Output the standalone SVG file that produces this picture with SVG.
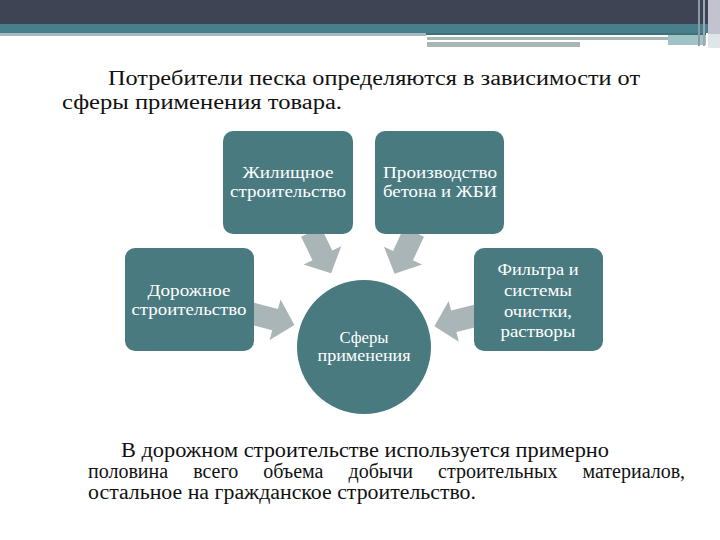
<svg xmlns="http://www.w3.org/2000/svg" width="720" height="540" viewBox="0 0 720 540">
<style>
.box{fill:#497a80}
.arr{fill:#a9b5b7}
text{font-family:'Liberation Serif','Times New Roman',Tinos,'DejaVu Serif',serif}
.bt{font-size:16px;fill:#ffffff;text-anchor:middle}
.tt{font-size:20px;fill:#111111}
</style>
<defs>
<path id="arrow" d="M0,-11 L26,-11 L26,-21 L46,0 L26,21 L26,11 L0,11 Z"/>
</defs>
<rect width="720" height="540" fill="#ffffff"/>
<g id="header">
<rect x="0" y="0" width="720" height="24" fill="#3f4454"/>
<rect x="0" y="24" width="720" height="9" fill="#47808a"/>
<rect x="0" y="33" width="426" height="3" fill="#a9b8bc"/>
<rect x="426" y="33" width="280" height="2" fill="#3f6f77"/>
<rect x="427" y="37" width="242" height="3" fill="#a9b6b6"/>
<rect x="668" y="35" width="38" height="10" fill="#9fc3c6"/>
<rect x="427" y="42" width="153" height="5" fill="#a9b6b6"/>
<rect x="698" y="0" width="2" height="46" fill="#8a9aa6"/>
<rect x="703" y="0" width="2" height="46" fill="#9aa8b4"/>
<rect x="708" y="0" width="12" height="34" fill="#c2c3cf"/>
<rect x="708" y="34" width="12" height="14" fill="#dfe6ea"/>
</g>
<g id="title">
<text class="tt" x="108" y="85" textLength="532" lengthAdjust="spacingAndGlyphs">Потребители песка определяются в зависимости от</text>
<text class="tt" x="62" y="109" textLength="280" lengthAdjust="spacingAndGlyphs">сферы применения товара.</text>
</g>
<g id="connectors">
<use href="#arrow" class="arr" transform="translate(311,232) rotate(64)"/>
<use href="#arrow" class="arr" transform="translate(414,232) rotate(115)"/>
<use href="#arrow" class="arr" transform="translate(250,313) rotate(15)"/>
<use href="#arrow" class="arr" transform="translate(479,315) rotate(166)"/>
</g>
<g id="node-housing">
<rect class="box" x="223" y="131" width="130" height="103" rx="10"/>
<text class="bt" x="288" y="178" textLength="91" lengthAdjust="spacingAndGlyphs">Жилищное</text>
<text class="bt" x="288" y="197" textLength="116" lengthAdjust="spacingAndGlyphs">строительство</text>
</g>
<g id="node-concrete">
<rect class="box" x="375" y="131" width="129" height="103" rx="10"/>
<text class="bt" x="440" y="178" textLength="114" lengthAdjust="spacingAndGlyphs">Производство</text>
<text class="bt" x="440" y="197" textLength="114" lengthAdjust="spacingAndGlyphs">бетона и ЖБИ</text>
</g>
<g id="node-road">
<rect class="box" x="125" y="248" width="129" height="103" rx="10"/>
<text class="bt" x="189" y="296" textLength="83" lengthAdjust="spacingAndGlyphs">Дорожное</text>
<text class="bt" x="189" y="315" textLength="115" lengthAdjust="spacingAndGlyphs">строительство</text>
</g>
<g id="node-filters">
<rect class="box" x="474" y="248" width="129" height="103" rx="10"/>
<text class="bt" x="538" y="275" textLength="81" lengthAdjust="spacingAndGlyphs">Фильтра и</text>
<text class="bt" x="538" y="296" textLength="68" lengthAdjust="spacingAndGlyphs">системы</text>
<text class="bt" x="538" y="317" textLength="68" lengthAdjust="spacingAndGlyphs">очистки,</text>
<text class="bt" x="538" y="337" textLength="75" lengthAdjust="spacingAndGlyphs">растворы</text>
</g>
<g id="node-center">
<circle class="box" cx="364" cy="347" r="67"/>
<text class="bt" x="364" y="343" textLength="49" lengthAdjust="spacingAndGlyphs">Сферы</text>
<text class="bt" x="364" y="361" textLength="93" lengthAdjust="spacingAndGlyphs">применения</text>
</g>
<g id="footer">
<text class="tt" x="121" y="457" textLength="488" lengthAdjust="spacingAndGlyphs">В дорожном строительстве используется примерно</text>
<text class="tt" x="88" y="478" word-spacing="20">половина всего объема добычи строительных материалов,</text>
<text class="tt" x="88" y="499" textLength="388" lengthAdjust="spacingAndGlyphs">остальное на гражданское строительство.</text>
</g>
</svg>
